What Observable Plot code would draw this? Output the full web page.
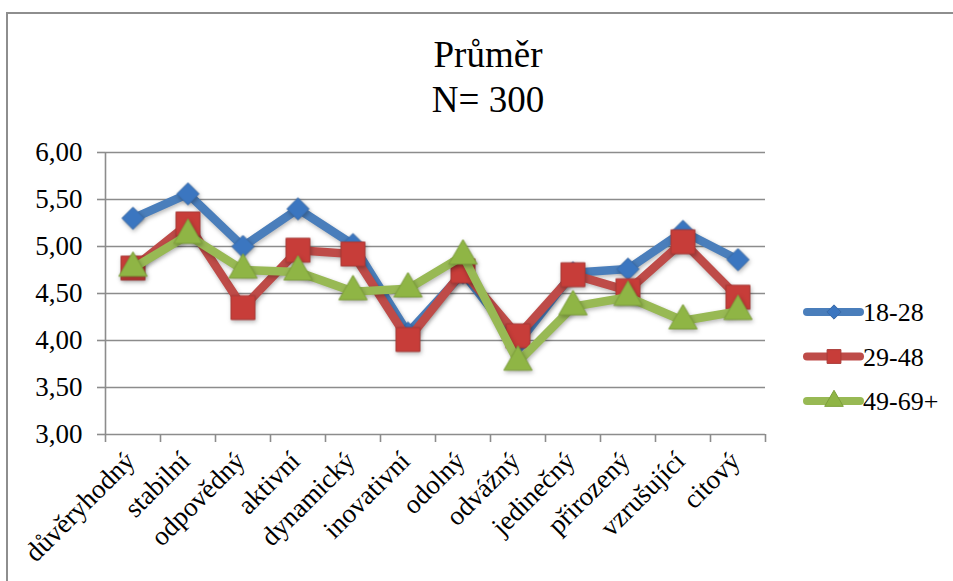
<!DOCTYPE html>
<html>
<head>
<meta charset="utf-8">
<script src="https://cdn.jsdelivr.net/npm/d3@7"></script>
<script src="https://cdn.jsdelivr.net/npm/@observablehq/plot@0.6"></script>
<style>
  html, body { margin: 0; padding: 0; background: #fff; }
  #chart { position: relative; width: 953px; height: 581px; overflow: hidden; font-family: 'Liberation Serif', 'Times New Roman', serif; color: #000; }
  #frame { position: absolute; left: 6px; top: 12px; width: 1000px; height: 700px; border: 2px solid #8e8e8e; box-sizing: border-box; }
  #title { position: absolute; left: 0; top: 32px; width: 976px; text-align: center; font-size: 37px; line-height: 45px; }
  #plot { position: absolute; left: 0; top: 0; }
  #legend { position: absolute; left: 796px; top: 290px; }
  .series-line { filter: drop-shadow(1px 2px 2px rgba(0,0,0,0.28)); }
</style>
</head>
<body>
<div id="chart">
  <div id="frame"></div>
  <div id="plot"></div>
  <div id="title">Průměr<br>N= 300</div>
  <div id="legend"></div>
</div>
<script>
const serif = "'Liberation Serif', 'Times New Roman', serif";

// Attribute labels along the x axis
const categories = ["důvěryhodný", "stabilní", "odpovědný", "aktivní", "dynamický", "inovativní",
  "odolný", "odvážný", "jedinečný", "přirozený", "vzrušující", "citový"];

// Age groups and their mean scores
const seriesNames = ["18-28", "29-48", "49-69+"];
const values1828 = [5.30, 5.56, 5.00, 5.40, 5.02, 4.08, 4.72, 3.97, 4.72, 4.76, 5.16, 4.86];
const values2948 = [4.77, 5.24, 4.35, 4.96, 4.92, 4.01, 4.74, 4.05, 4.70, 4.53, 5.05, 4.46];
const values4969 = [4.77, 5.12, 4.75, 4.73, 4.52, 4.55, 4.90, 3.77, 4.36, 4.46, 4.21, 4.31];

const yTicks = [3.0, 3.5, 4.0, 4.5, 5.0, 5.5, 6.0];

const styles = {
  "18-28": {line: "#4a7ebb", fill: "#3b76c0", edge: "#3a6aa6", symbol: "diamond2", r: 10},
  "29-48": {line: "#be4b48", fill: "#c73d39", edge: "#a93a37", symbol: "square", r: 13.5},
  "49-69+": {line: "#98b954", fill: "#8fb545", edge: "#7d9f3b", symbol: "triangle", r: 10.5}
};

const rows = [values1828, values2948, values4969].flatMap((vals, s) =>
  vals.map((v, i) => ({series: seriesNames[s], i, value: v})));

const fmt = d => d.toFixed(2).replace(".", ",");
const halfSteps = d3.range(-0.5, categories.length, 1);

const seriesMarks = seriesNames.flatMap(name => {
  const st = styles[name];
  const data = rows.filter(d => d.series === name);
  return [
    Plot.line(data, {x: "i", y: "value", stroke: st.line, strokeWidth: 8.5,
      strokeLinejoin: "round", strokeLinecap: "round", className: "series-line"}),
    Plot.dot(data, {x: "i", y: "value", symbol: () => st.symbol, r: st.r,
      fill: st.fill, stroke: st.edge, strokeWidth: 1, className: "series-line"})
  ];
});

const plot = Plot.plot({
  width: 953,
  height: 581,
  marginLeft: 105,
  marginRight: 188,
  marginTop: 152,
  marginBottom: 147,
  style: {fontFamily: serif, color: "#000", background: "transparent"},
  x: {type: "linear", domain: [-0.5, categories.length - 0.5]},
  y: {domain: [3, 6]},
  symbol: {type: "identity"},
  marks: [
    Plot.ruleY(yTicks, {stroke: "#8c8c8c", strokeWidth: 1.6}),
    Plot.ruleX([-0.5], {stroke: "#8c8c8c", strokeWidth: 1.6}),
    Plot.axisY({ticks: yTicks, tickFormat: fmt, tickSize: 8, tickPadding: 15,
      fontSize: 27, stroke: "#8c8c8c", strokeWidth: 1.6, label: null}),
    Plot.axisX({ticks: halfSteps, tickFormat: () => "", tickSize: 8,
      stroke: "#8c8c8c", strokeWidth: 1.6, label: null}),
    Plot.text(categories, {x: (d, i) => i, y: () => 3, text: d => d, rotate: -45,
      textAnchor: "end", lineAnchor: "middle", dx: -2.5, dy: 22, fontSize: 27, fill: "#000"}),
    ...seriesMarks
  ]
});
document.getElementById("plot").appendChild(plot);

// Legend: thick line swatch with the series marker, then the label
const legend = d3.select("#legend").append("svg")
  .attr("width", 157).attr("height", 140)
  .style("font-family", serif);
seriesNames.forEach((name, k) => {
  const st = styles[name];
  const g = legend.append("g").attr("transform", `translate(0, ${22 + k * 44.5})`);
  g.append("line").attr("x1", 11).attr("x2", 64).attr("y1", 0).attr("y2", 0)
    .attr("stroke", st.line).attr("stroke-width", 8).attr("stroke-linecap", "round");
  const size = {"diamond2": 130, "square": 190, "triangle": 150}[st.symbol];
  const sym = {"diamond2": d3.symbolDiamond2, "square": d3.symbolSquare, "triangle": d3.symbolTriangle}[st.symbol];
  g.append("path").attr("d", d3.symbol(sym, size)()).attr("transform", "translate(38,0)")
    .attr("fill", st.fill).attr("stroke", st.edge);
  g.append("text").attr("x", 67).attr("y", 0).attr("dy", "0.35em")
    .attr("font-size", 26).text(name);
});
</script>
</body>
</html>
